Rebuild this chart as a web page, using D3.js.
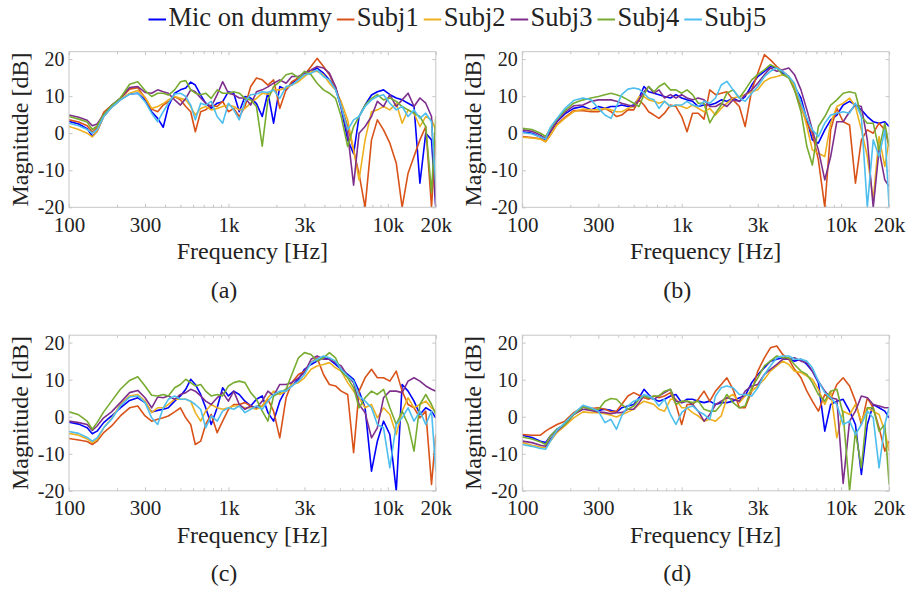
<!doctype html>
<html>
<head>
<meta charset="UTF-8">
<title>Magnitude responses</title>
</head>
<body style="margin:0">
<svg id="fig" width="908" height="592"></svg>
<script src="https://d3js.org/d3.v7.min.js"></script>
<script>
// frequency points shared by every curve [Hz]
var freqs = [100,115,130,140,150,165,185,210,240,270,300,330,360,390,420,460,500,540,580,620,
  670,720,780,850,920,1000,1080,1170,1270,1380,1500,1630,1770,1920,2100,2300,2500,2750,3000,3300,
  3600,3950,4300,4700,5100,5600,6100,6600,7200,7900,8600,9400,10300,11300,12300,13400,14600,15900,17300,18800,
  20000];

var seriesNames = ["Mic on dummy", "Subj1", "Subj2", "Subj3", "Subj4", "Subj5"];
var seriesColors = ["#0000ff", "#d95319", "#edb120", "#7e2f8e", "#77ac30", "#4dbeee"];

var xTicks = [100, 300, 1000, 3000, 10000, 20000];
var xTickLabels = ["100", "300", "1k", "3k", "10k", "20k"];
var xMinor = [200,400,500,600,700,800,900,2000,4000,5000,6000,7000,8000,9000];
var yTicks = [-20, -10, 0, 10, 20];
var captions = ["(a)", "(b)", "(c)", "(d)"];

// (a)
var aMic = [3.2,2.5,1.2,-0.8,0.5,4.5,7,9,10.6,10.8, 9,5.8,4,1.6,7.2,10.8,11.7,12.2,13.8,13, 10.3,8.1,6.7,8.1,8.5,11.2,10.8,5.8,9.9,9.5, 8,4.5,11,2.7,12.6,11.7,13.5,14.9,16.2,16.7, 17.6,16.2,14.4,12.2,6.7,-1.8,-5.5,4.5,7.6,10.3, 11.2,11.7,10.4,9.5,9,8.1,7.2,-13.5,0,-1.8, -20];
var aSubj1 = [3.6,3,2,0.3,1.5,5.6,7.5,9.3,11.9,12.3, 9.5,6.5,5.8,7.6,8.5,9.9,9,7.2,5.8,0.4, 5.8,6.3,7.6,7.2,8.6,5.8,6.7,4.5,7.2,12.6, 14.9,14.4,13,14.4,6.7,11.7,13.9,14.9,15.8,18, 20.2,18,15.8,12.2,7.2,1.8,-4.5,-11,-20,-1.8, 3.6,0.9,-2.7,-8.1,-20,-10.8,-6.3,-1.8,1.8,-20, -1.8];
var aSubj2 = [1.8,1,0,-1,0.5,4.5,7,9,10.8,11.5, 9.7,6.7,7.2,8,9,9.9,9.4,9,7.2,4.9, 6.7,7.2,6.3,6.7,7.2,7.6,7.2,6.3,6.7,8.1, 9.4,10.8,10.5,11.7,11.7,12.2,13,13.9,15.3,16.7, 16.7,15.8,13.5,11.7,8.5,3.6,-4.5,-12.6,-1.8,5.8, 6.3,7.2,6.3,8.1,2.7,6.3,5.4,1.8,4.5,3.6, 0.9];
var aSubj3 = [4.9,4.3,3.5,2,2.5,5,7.5,9.5,12.3,12.6, 11,10.8,11.7,11.2,10.8,9,7.6,9.4,11.7,11.2, 9.5,8.1,7.2,10.4,13.9,10.8,10.4,9.5,9.5,7.6, 11.2,11.7,12.5,13.5,14.4,13.5,15.3,15.3,16.2,17.1, 18,17.6,16.2,12.6,7.2,0,-14,0,1.8,4.5, 8.6,7.2,10.4,7.2,9,10.8,7.2,9.5,8.1,4.5, -20];
var aSubj4 = [4.5,3.8,3,1,2,5,7.5,9.5,13.2,13.9, 11.5,9.9,10.8,10.8,10.3,11.7,13.9,14.2,11.7,10.8, 10.4,10.8,9.4,11.7,10.8,10.8,11.2,10.8,9.4,9, 7.2,-3.5,9,12.6,13.9,15.8,16.2,14.9,16.7,15.8, 13.5,11.7,10.8,9.4,4.5,-3.6,1.8,4.5,7.6,9.4, 10.4,9,9.5,8.6,7.2,6.3,5.4,4.5,1.8,-16, 4.5];
var aSubj5 = [2.7,2,1,0,1,4.5,7,9,10.5,10.8, 8.5,5.4,3.1,5.8,8.1,10.6,10.8,9.9,7.6,3.6, 8.1,7.6,8.6,4.5,2.7,8.1,6.3,3.6,8.6,10.4, 10.6,11.2,11,11.7,9.4,12.6,13,14.4,15.8,16.2, 17.1,15.3,14.4,11.7,7.2,0.9,3.6,4.5,7.2,9, 9.9,10.4,8.1,6.3,7.2,4.5,6.3,4,5.4,3.1, -14];

// (b)
var bMic = [0.4,0,-1,-1.8,0.3,3.1,5.2,6.7,7.2,6.3, 7.2,6.7,7.2,7.2,7.6,7.2,7.6,9.5,12.6,11.2, 10.8,10.4,9.9,9.5,10.4,9.5,9,8.6,7.2,7.6, 7.6,8.1,9,8.6,9.5,8.6,9.9,13,15.3,16.7, 18,17.6,16.2,15.3,12.6,9.5,3.6,-1.8,-2.7,0.9, 3.6,4.9,7.6,8.6,7.6,6.3,4.5,3.1,2.7,3.1, 1.8];
var bSubj1 = [-0.9,-1.2,-1.5,-2.3,-0.5,2.4,4.3,6.1,6.1,5.8, 5.8,6.7,5.8,4.5,4.9,6.3,6.3,9,7.6,5.8, 4.9,4,5.4,7.6,7.2,4.5,0.4,5.4,5.4,3.8, 11.7,10.4,10.8,11.2,9,7.2,1.8,11.7,16.2,21.2, 19.8,18,16.7,15.3,11.7,7.2,2.7,0,-7.2,-20, 0.9,6.7,3.1,2.2,-13.5,-1.8,0.9,0,2.7,0.9, -3.6];
var bSubj2 = [-1.1,-1.3,-1.6,-2.3,-0.5,2.2,4,5.8,6.5,6.3, 6.3,6.7,6.3,5.8,5.8,6.7,7.2,9.9,9.9,9, 8.6,8.1,8.6,7.2,7.6,7.2,6.7,7.6,6.7,5.8, 6.7,4.9,6.7,8.1,9.5,9.9,10.4,11.2,11.7,14, 14.9,15.3,15.8,15.3,12.6,8.1,1.8,-4.5,-5.4,-6.3, 2.7,7.2,8.1,9.5,7.2,0.9,-6.3,-18,-0.9,-9, -1.8];
var bSubj3 = [0.9,0.5,-0.5,-1.5,0.5,3.3,5.6,7.4,7.6,8.6, 9,9,9,8.6,8.1,7.6,7.2,9,11.2,12.6, 10.8,11.7,9.5,10.4,9.5,10.4,9.5,9,9.5,9, 7.2,7.2,8.1,7.2,9,8.6,10.4,11.7,13.5,15.8, 17.6,16.7,17.1,17.6,15.8,11.7,6.3,0.9,-4.5,-12.6, -6.3,3.1,3.1,5.8,7.6,7.2,-1.8,-20,-4.5,-12.6, -14.4];
var bSubj4 = [1.3,1,0,-0.9,1.3,3.8,6.1,8.1,9,9.5, 9.9,10.4,10.8,10.4,9.9,9,8.1,7.2,10.4,12.6, 11.2,12.6,13.5,11.7,11.7,10.8,11.7,10.4,8.1,8.1, 2.8,5.4,7.6,10.8,11.7,9.5,11.7,14.4,15.8,17.1, 18.5,17.6,15.8,14.9,11.7,5.8,-3.6,-8.6,1.8,4.5, 7.6,9,10.8,11.2,10.8,4.5,2.7,2.7,-4.5,2.7, -3.6];
var bSubj5 = [0.2,-0.2,-1,-1.6,1.6,4,6.7,8.8,9.5,9, 6.7,4.9,4,7.2,10.4,11.9,12.2,11.9,10.8,9.5, 9,6.7,8.6,7.2,7.6,7.6,8.6,7.6,7.2,8.6, 8.1,9.5,13,14,11.7,9.5,8.6,10.8,12.6,15.3, 16.7,17.6,16.7,15.3,13.5,8.1,4,0.9,-0.9,2.7, 4.9,5.4,5.8,5.4,8.1,4.5,-20,-1.8,-6.3,0.9, -20];

// (c)
var cMic = [-1.5,-2,-3,-4.6,-3.9,-1.6,0.2,2.4,4.4,5.1, 3.8,1.3,1.7,2,2.4,4.2,5.6,7.4,10.1,8.7, 6,2.4,-2.1,2.4,7.8,5.6,6.9,6,4.2,2.9, 4.7,5.6,1.1,-1.2,4.2,7.4,8.3,10.1,12.8,14.1, 15,15.9,15.5,14.1,12.8,11.4,10.1,6.9,2.4,-14.7, -6.6,-1.2,-4.8,-20,8.7,6.9,4.2,0.6,2.4,1.5, -0.3];
var cSubj1 = [-5.9,-6.3,-6.7,-7.5,-6.6,-4.3,-2.5,0.2,2.4,2.9, 0.2,-1.2,-0.7,-0.3,0.2,1.3,2.4,-0.3,-2.1,-7.5, -6.6,-2.1,0.6,-4.3,-1.2,2,3.3,3.3,3.8,2.9, 2.4,2.9,4.7,1.5,-5.7,5.1,9.2,11.4,12.3,14.6, 15.9,11.4,8.7,8.3,6.9,6,-9.7,6.9,10.5,12.8, 10.5,10.5,9.6,12.3,6.9,3.3,2.4,-0.3,1.5,-18.3, -4.8];
var cSubj2 = [-4.5,-5,-6,-7,-6.2,-3,-0.5,3.3,5.6,6, 4.2,1.1,2.4,2.4,3.3,4.7,4.7,4.7,4.2,1.1, -1.2,1.5,3.3,2.4,2,2.4,2.9,2.9,2.4,2.4, 2,2.9,5.1,6.9,6,6.9,8.7,9.2,10.5,12.8, 13.7,14.1,14.6,13.2,12.3,9.2,6.9,5.1,2.4,3.3, -0.3,2.4,0.6,-4.8,1.5,5.1,2.4,3.3,4.2,2.4, 1.5];
var cSubj3 = [-1.2,-1.6,-2.1,-3.7,-2.5,-0.3,1.3,3.8,6.5,7.1, 5.1,2.4,5.3,5.1,5.6,4.7,6,6.5,7.4,6.9, 5.6,4.2,3.3,5.1,6.5,4.2,6.9,3.3,2,2.9, 2.4,4.2,6.9,5.6,8.7,8.7,9.2,10.5,11.9,15.5, 16.4,15.5,15.5,14.6,13.7,11,9.2,3.3,1.1,-5.7, -3,5.1,6.9,6.9,6.5,9.6,10.5,9.6,8.3,7.4, 6.9];
var cSubj4 = [1.3,0.5,-1.2,-3.4,-1.6,1.3,4.2,7.4,9.8,10.8, 8.3,5.8,5.6,6,5.6,7.8,8.7,10.1,9.2,8.3, 8.7,6.9,5.6,6,5.6,8.3,9.2,9.6,9.2,6.5, 4.7,1.5,-1.2,5.6,6.5,7.4,11.4,15.9,17.3,16.8, 15,15.9,17.3,15.9,12.3,10.5,7.8,2.4,5.1,6.9, 6,7.4,2.4,-2.1,1.5,-2.1,-9.3,3.3,6,3.3, 0.6];
var cSubj5 = [-4,-4.5,-5.6,-6.6,-5.7,-3,-0.7,2.9,5.3,5.6, 3.8,-0.3,-2.1,2.4,4.7,5.6,4.7,4.7,4.2,3.3, 2,-3,0.2,-1.2,1.5,2.4,2,2.9,1.1,2, 2.9,2,4.2,6,6.9,6.9,8.3,9.6,11.4,14.6, 15.5,16.4,15.9,15,12.8,11,9.6,5.6,4.2,2.4, -2.1,-3,-13.8,-2.1,-0.3,2.4,-1.2,1.5,-2.1,1.5, -14.7];

// (d)
var dMic = [-5,-5.6,-6.6,-7,-5.2,-3.4,-2.1,0.6,2.6,2, 1.7,2,1.7,1.3,2.4,2.9,3.3,5.1,7.4,6, 4.7,4.2,4.7,5.6,6,3.8,4.7,4.7,4.2,3.8, 4.2,3.3,3.8,3.8,4.2,5.1,5.6,9.2,11.4,13.2, 15,15.5,15.9,15.5,15,15.5,14.1,12.3,9.2,-3.9, 3.3,4.2,4.7,1.5,-2.1,-15.6,-2.1,3.3,2.4,1.5, -0.3];
var dSubj1 = [-4.8,-5,-5,-3.9,-3.1,-2.1,-1.2,1.1,2.6,2.2, 2.4,2,1.3,1.5,3.3,5.6,6.5,5.8,5.1,4.7, 5.6,5.1,5.6,6.5,3.3,-2.1,3.3,3.3,4.7,6.9, 4.2,6.9,8.7,10.5,7.4,2.4,2.4,6.9,12.3,15.9, 18.6,19.1,16.8,15.5,12.8,10.5,6.9,4.2,1.5,6, 4.7,8.7,10.5,8.3,4.2,-2.1,5.1,2.4,-3,-9.3, -6.6];
var dSubj2 = [-7,-7.7,-8.2,-8.4,-6.6,-4.3,-2.5,-0.3,1.3,1.1, 1.1,0.8,0.4,-0.1,0.6,1.3,2,3.3,4.2,3.8, 3.3,2,1.5,4.7,4.7,2.4,2.4,1.1,0.2,-1.2, -0.7,-1.2,0.2,5.1,6,3.8,5.6,6.9,8.3,10.1, 12.3,13.7,15,14.1,12.3,11.9,11,10.1,7.4,3.3, 6.9,-5.7,1.5,0.6,3.3,-1.2,2.4,1.5,0.6,-3.9, -9.3];
var dSubj3 = [-6.6,-7,-7.7,-8,-6.1,-3.9,-2.1,0.6,2,1.7, 1.3,1.1,0.8,1.1,1.1,2,2,3.8,5.6,5.1, 4.7,5.6,6.5,7.4,4.2,3.8,4.2,3.3,1.5,-1.2, 0.6,3.3,4.2,5.1,4.7,4.2,6.9,8.3,8.7,11.4, 12.8,14.1,15.5,15.5,15.9,15,14.6,12.3,9.6,6.9, 5.1,4.7,-18,-1.2,1.5,5.6,5.1,3.3,2.9,2.4, 2.4];
var dSubj4 = [-5.5,-6,-6.8,-7.5,-5.2,-3.4,-2.1,0.6,2.6,2, 1.9,4.2,4.9,4.7,3.3,2,2.9,4.7,5.6,5.1, 5.6,5.6,6.9,7.4,3.3,4.2,4.2,3.8,4.2,2, 1.5,1.5,3.3,6,3.8,2.4,2.9,7.8,10.5,13.7, 15,16.4,15.9,15.9,14.1,12.3,11.4,9.2,6,4.2, 6.9,7.4,0.6,-20,-3.9,-13.8,2.4,2.4,-3.9,-2.1, -18.3];
var dSubj5 = [-7.5,-8,-8.6,-8.8,-6.6,-3.7,-1.6,0.8,3.1,2.4, 1.5,-1.6,-0.7,-3.4,0.2,2.9,4.2,4.7,6,5.6, 4.7,2.9,4.7,0.6,-2.1,1.1,2.4,2.9,1.5,0.6, -0.7,5.6,7.8,8.3,7.8,6,6,5.6,7.8,11.4, 13.7,15.9,16.4,16.4,15.5,15.5,15,13.2,9.6,6.5, 5.1,3.3,-2.1,-1.2,-4.8,-2.1,1.5,-0.3,-13.8,-2.1, 2.4];

var panelData = [
  [aMic, aSubj1, aSubj2, aSubj3, aSubj4, aSubj5],
  [bMic, bSubj1, bSubj2, bSubj3, bSubj4, bSubj5],
  [cMic, cSubj1, cSubj2, cSubj3, cSubj4, cSubj5],
  [dMic, dSubj1, dSubj2, dSubj3, dSubj4, dSubj5]
];

// serif stack; in this browser the generic "sans-serif" resolves to a Times-like face
var FONT = "'Liberation Serif', 'Times New Roman', Tinos, 'Noto Serif', sans-serif";
var svg = d3.select("#fig");
var plotW = 366.8, plotH = 155.6;
var lefts = [69, 522.3, 69, 522.3];
var tops = [51.7, 51.7, 335.2, 335.2];
var boxColor = "#c6c6c6";

function label(sel, size) {
  return sel.attr("font-family", FONT).attr("font-size", size).attr("fill", "#222");
}

panelData.forEach(function(series, i) {
  var left = lefts[i], top = tops[i], bottom = top + plotH, right = left + plotW;
  var x = d3.scaleLog().domain([100, 20000]).range([left, right]);
  var y = d3.scaleLinear().domain([-20, 22]).range([bottom, top]);
  var g = svg.append("g");

  g.append("clipPath").attr("id", "clip" + i)
    .append("rect").attr("x", left).attr("y", top).attr("width", plotW).attr("height", plotH);

  // ticks (inside the box, all four sides)
  function styleAxis(sel) {
    sel.select(".domain").remove();
    sel.attr("font-family", FONT);
    sel.selectAll("line").attr("stroke", boxColor);
  }
  g.append("g").attr("transform", "translate(0," + bottom + ")")
    .call(d3.axisBottom(x).tickValues(xMinor).tickFormat("").tickSizeInner(-2.5).tickSizeOuter(0))
    .call(styleAxis);
  g.append("g").attr("transform", "translate(0," + top + ")")
    .call(d3.axisTop(x).tickValues(xMinor).tickFormat("").tickSizeInner(-2.5).tickSizeOuter(0))
    .call(styleAxis);
  g.append("g").attr("transform", "translate(0," + top + ")")
    .call(d3.axisTop(x).tickValues(xTicks).tickFormat("").tickSizeInner(-3.5).tickSizeOuter(0))
    .call(styleAxis);
  g.append("g").attr("transform", "translate(" + right + ",0)")
    .call(d3.axisRight(y).tickValues(yTicks).tickFormat("").tickSizeInner(-3.5).tickSizeOuter(0))
    .call(styleAxis);

  var xa = g.append("g").attr("transform", "translate(0," + bottom + ")")
    .call(d3.axisBottom(x).tickValues(xTicks)
      .tickFormat(function(d, k) { return xTickLabels[k]; })
      .tickSizeInner(-3.5).tickSizeOuter(0).tickPadding(9.5))
    .call(styleAxis);
  label(xa.selectAll("text"), 21);

  var ya = g.append("g").attr("transform", "translate(" + left + ",0)")
    .call(d3.axisLeft(y).tickValues(yTicks)
      .tickFormat(function(d) { return String(d); })
      .tickSizeInner(-3.5).tickSizeOuter(0).tickPadding(4.5))
    .call(styleAxis);
  label(ya.selectAll("text"), 20);

  // curves
  var line = d3.line()
    .x(function(d, k) { return x(freqs[k]); })
    .y(function(d) { return y(d); });
  g.append("g").attr("clip-path", "url(#clip" + i + ")")
    .selectAll("path").data(series).enter().append("path")
    .attr("d", line)
    .attr("fill", "none")
    .attr("stroke", function(d, k) { return seriesColors[k]; })
    .attr("stroke-width", 1.6)
    .attr("stroke-linejoin", "round");

  // box
  g.append("rect").attr("x", left).attr("y", top).attr("width", plotW).attr("height", plotH)
    .attr("fill", "none").attr("stroke", boxColor).attr("stroke-width", 1);

  // axis labels
  label(g.append("text"), 24).attr("x", left + plotW / 2).attr("y", bottom + 52)
    .attr("text-anchor", "middle").text("Frequency [Hz]");
  label(g.append("text"), 24)
    .attr("transform", "translate(" + (left - 41.5) + "," + (top + plotH / 2) + ") rotate(-90)")
    .attr("text-anchor", "middle").text("Magnitude [dB]");
  label(g.append("text"), 24).attr("x", left + 155).attr("y", bottom + 90.4)
    .attr("text-anchor", "middle").text(captions[i]);
});

// legend across the top
var legend = svg.append("g");
var cx = 0;
seriesNames.forEach(function(name, k) {
  legend.append("line").attr("x1", cx).attr("x2", cx + 17.6).attr("y1", 19.5).attr("y2", 19.5)
    .attr("stroke", seriesColors[k]).attr("stroke-width", 2);
  var t = label(legend.append("text"), 26.5).attr("x", cx + 20).attr("y", 26).text(name);
  cx += 20 + t.node().getComputedTextLength() + 5;
});
legend.attr("transform", "translate(" + (457.3 - (cx - 5) / 2) + ",0)");
</script>
</body>
</html>
